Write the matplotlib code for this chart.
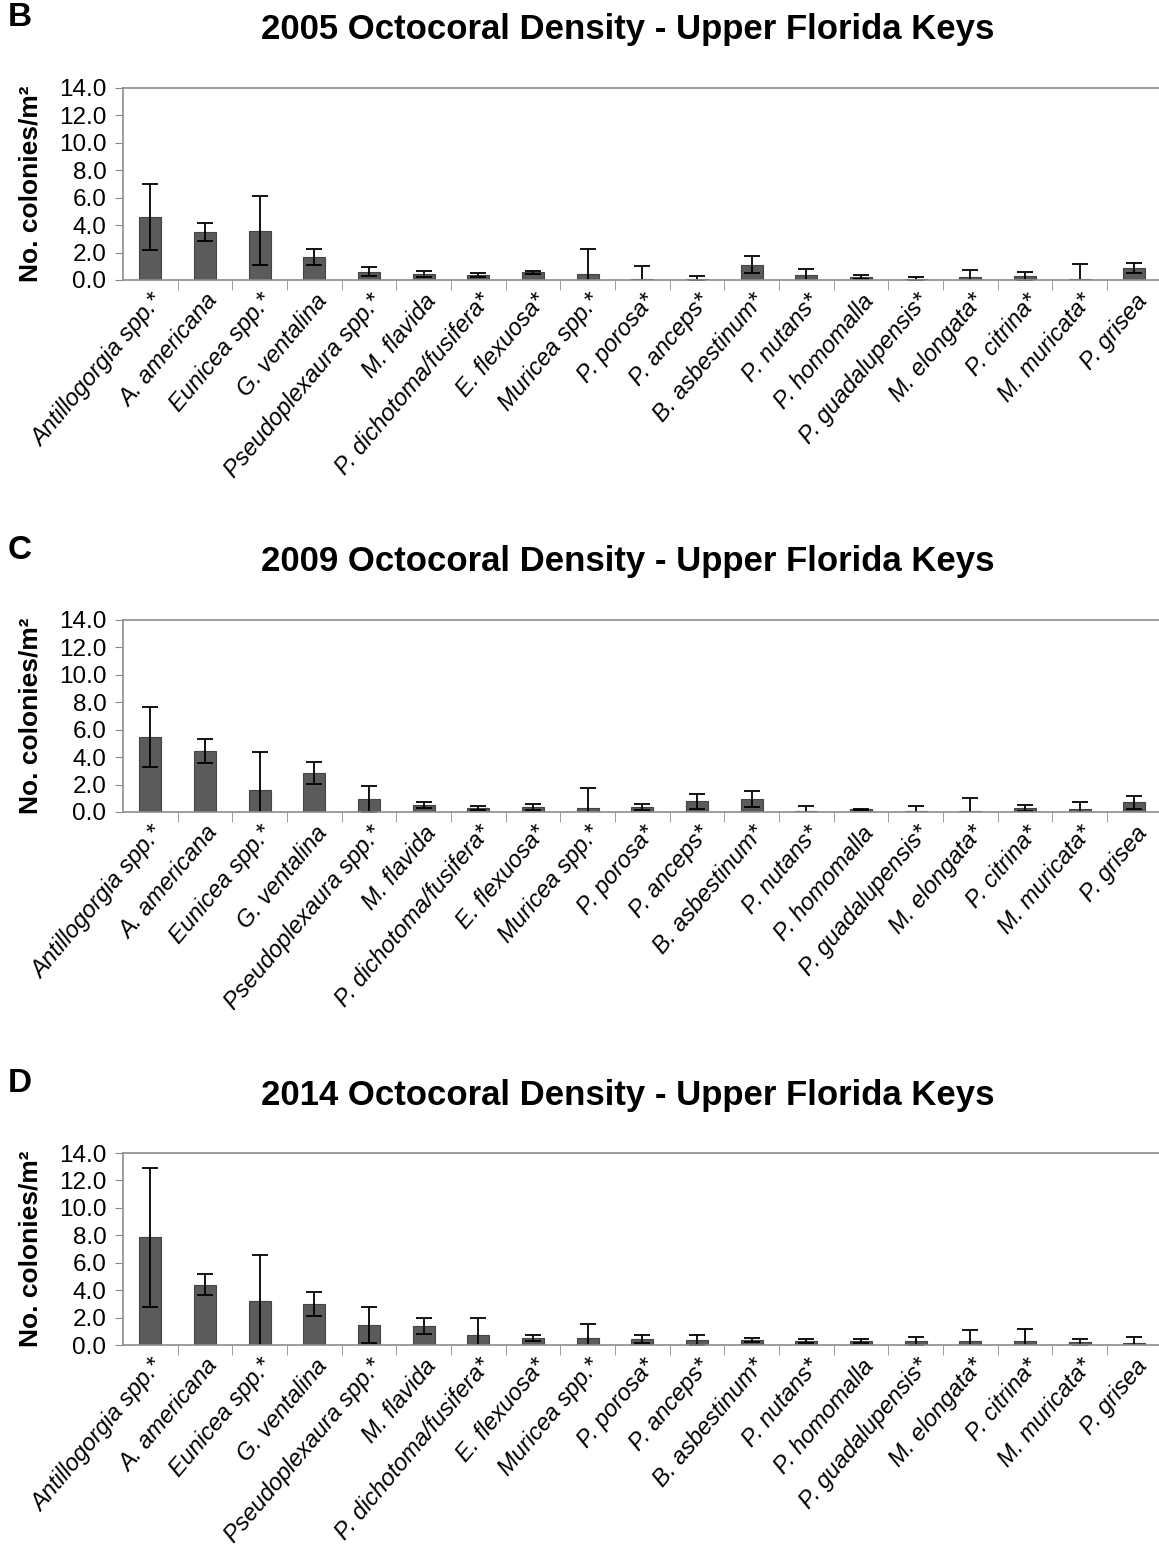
import matplotlib.pyplot as plt
import numpy as np

plt.rcParams['font.family'] = ['Liberation Sans', 'DejaVu Sans']

species = ["Antillogorgia spp.", "A. americana", "Eunicea spp.", "G. ventalina",
           "Pseudoplexaura spp.", "M. flavida", "P. dichotoma/fusifera", "E. flexuosa",
           "Muricea spp.", "P. porosa", "P. anceps", "B. asbestinum", "P. nutans",
           "P. homomalla", "P. guadalupensis", "M. elongata", "P. citrina",
           "M. muricata", "P. grisea"]
starred = [1, 0, 1, 0, 1, 0, 1, 1, 1, 1, 1, 1, 1, 0, 1, 1, 1, 1, 0]

density_2005 = [4.6, 3.5, 3.6, 1.7, 0.6, 0.45, 0.35, 0.55, 0.45, 0.08, 0.1, 1.1,
                0.35, 0.2, 0.08, 0.2, 0.27, 0.08, 0.88]
err_2005 = [2.4, 0.63, 2.5, 0.57, 0.32, 0.22, 0.15, 0.12, 1.8, 0.94, 0.17, 0.62,
            0.48, 0.13, 0.17, 0.55, 0.31, 1.08, 0.38]

density_2009 = [5.45, 4.45, 1.6, 2.85, 0.95, 0.5, 0.27, 0.36, 0.27, 0.34, 0.78, 0.95,
                0.1, 0.19, 0.1, 0.1, 0.27, 0.19, 0.7]
err_2009 = [2.2, 0.88, 2.74, 0.8, 0.95, 0.24, 0.15, 0.2, 1.5, 0.23, 0.55, 0.56,
            0.32, 0.06, 0.32, 0.9, 0.23, 0.55, 0.47]

density_2014 = [7.85, 4.4, 3.2, 3.0, 1.45, 1.37, 0.7, 0.53, 0.53, 0.44, 0.38, 0.36,
                0.29, 0.29, 0.29, 0.29, 0.29, 0.19, 0.13]
err_2014 = [5.05, 0.78, 3.33, 0.9, 1.3, 0.57, 1.25, 0.23, 0.97, 0.32, 0.38, 0.15,
            0.13, 0.13, 0.3, 0.78, 0.89, 0.23, 0.46]

panels = [
    ("B", "2005", density_2005, err_2005),
    ("C", "2009", density_2009, err_2009),
    ("D", "2014", density_2014, err_2014),
]

labels = [s + ("*" if st else "") for s, st in zip(species, starred)]
x = np.arange(len(species))

fig = plt.figure(figsize=(11.59, 15.46), dpi=100)
W, H = 1159, 1546

# pixel rows of each panel: (14.0 line, 0.0 line)
rows = [(88, 280), (620, 812), (1153, 1345)]
left_px, right_px = 123, 1159
axis_gray = "#8c8c8c"

for (letter, year, vals, errs), (top_px, bot_px) in zip(panels, rows):
    ax = fig.add_axes([left_px / W, 1 - bot_px / H,
                       (right_px - left_px) / W, (bot_px - top_px) / H])
    ax.bar(x, vals, width=0.4, color="#5b5b5b", edgecolor="#444444", linewidth=0.8,
           yerr=errs, error_kw=dict(ecolor="black", elinewidth=1.3, capsize=6,
                                    capthick=1.3))
    ax.set_xlim(-0.5, 18.45)
    ax.set_ylim(0, 14)
    ax.set_yticks(np.arange(0, 14.1, 2))
    ax.set_yticklabels([f"{v:.1f}" for v in np.arange(0, 14.1, 2)], fontsize=17.5)
    ax.set_xticks(x)
    ax.set_xticklabels(labels, rotation=50, ha="right", rotation_mode="anchor",
                       fontsize=17, style="italic")
    ax.set_xticks(x[:-1] + 0.5, minor=True)
    ax.tick_params(axis="x", which="major", length=0, pad=7)
    ax.tick_params(axis="x", which="minor", length=7, color=axis_gray, direction="out")
    ax.tick_params(axis="y", length=6, color=axis_gray, direction="out", pad=6)
    ax.spines["right"].set_visible(False)
    for side in ["left", "bottom", "top"]:
        ax.spines[side].set_color(axis_gray)
        ax.spines[side].set_linewidth(1.2)
    ax.set_ylabel("No. colonies/m²", fontsize=19, fontweight="bold", labelpad=12)

    fig.text(628 / W, 1 - (top_px - 58) / H,
             f"{year} Octocoral Density - Upper Florida Keys",
             ha="center", va="center", fontsize=25, fontweight="bold")
    fig.text(8 / W, 1 - (top_px - 70) / H, letter, ha="left", va="center",
             fontsize=24, fontweight="bold")

fig.savefig("out.png", dpi=100)
